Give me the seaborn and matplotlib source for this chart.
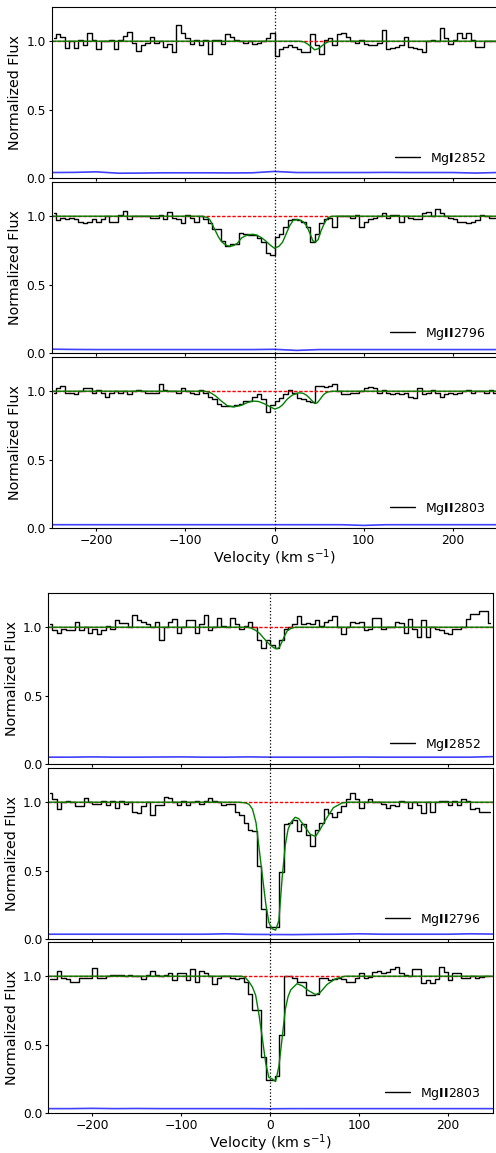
import numpy as np
import matplotlib
matplotlib.use("Agg")
import matplotlib.pyplot as plt
import seaborn as sns

# velocity bin centres (km/s) of the binned spectra, and knots of the error curves
VEL = np.arange(-247.5, 250, 5.0)
ERR_VEL = np.arange(-250, 251, 25)

LABELS = [r"Mg$\bf{I}$2852", r"Mg$\bf{II}$2796", r"Mg$\bf{II}$2803"]

# ---- system A (upper block) ----
FLUX_A_2852 = [
    1.02, 1.05, 1.03, 0.95, 1.00, 0.95, 1.01, 0.97, 1.06, 1.01,
    0.94, 1.00, 1.00, 1.01, 0.94, 1.01, 1.04, 1.07, 0.99, 0.93,
    0.97, 0.99, 1.03, 0.99, 1.00, 0.96, 0.98, 0.92, 1.12, 1.06,
    1.02, 0.98, 1.01, 0.97, 1.01, 0.91, 1.01, 1.01, 0.98, 1.05,
    1.03, 1.01, 1.00, 0.99, 1.00, 0.98, 0.99, 1.00, 1.02, 1.06,
    0.89, 0.94, 0.96, 0.97, 0.96, 0.94, 0.92, 0.92, 1.05, 0.97,
    0.91, 1.01, 1.02, 0.97, 1.05, 1.06, 1.03, 1.00, 0.99, 1.01,
    0.98, 0.97, 0.97, 0.99, 1.08, 0.94, 0.95, 0.96, 0.97, 1.03,
    0.96, 0.95, 0.94, 0.92, 1.00, 1.01, 1.00, 1.10, 1.02, 0.98,
    1.01, 1.06, 1.02, 1.06, 1.01, 0.96, 0.96, 1.00, 1.00, 1.00,
]
FLUX_A_2796 = [
    1.02, 0.97, 0.99, 0.98, 0.99, 0.98, 0.96, 0.95, 0.96, 0.98,
    0.96, 0.98, 1.00, 0.96, 0.96, 1.01, 1.04, 0.98, 1.00, 1.00,
    1.00, 1.00, 0.99, 0.99, 1.01, 0.98, 1.03, 0.99, 0.98, 0.95,
    1.01, 0.99, 0.96, 1.00, 0.98, 0.95, 0.91, 0.91, 0.82, 0.78,
    0.80, 0.80, 0.88, 0.87, 0.86, 0.86, 0.84, 0.81, 0.73, 0.72,
    0.85, 0.87, 0.92, 0.97, 0.98, 0.97, 0.96, 0.92, 0.81, 0.87,
    0.95, 0.98, 0.99, 0.92, 1.00, 1.00, 1.00, 0.99, 1.01, 0.92,
    0.96, 0.98, 0.99, 1.00, 1.02, 0.99, 1.01, 1.01, 0.96, 1.00,
    0.99, 0.98, 0.98, 1.02, 1.03, 1.00, 1.05, 1.02, 1.00, 0.99,
    0.98, 0.96, 0.96, 0.95, 0.96, 0.97, 1.01, 1.00, 0.99, 0.99,
]
FLUX_A_2803 = [
    0.99, 1.02, 1.04, 0.99, 0.99, 0.98, 1.00, 1.02, 1.02, 0.99,
    1.01, 0.99, 0.96, 0.99, 1.00, 0.99, 1.00, 0.98, 1.00, 1.01,
    1.00, 0.99, 0.99, 0.99, 1.05, 1.01, 1.00, 1.00, 0.99, 1.02,
    1.00, 0.99, 0.98, 1.01, 0.99, 0.96, 0.94, 0.91, 0.89, 0.89,
    0.89, 0.90, 0.91, 0.93, 0.93, 0.96, 0.98, 0.94, 0.85, 0.90,
    0.93, 0.95, 0.98, 1.01, 0.99, 0.95, 0.94, 0.93, 0.92, 1.04,
    1.04, 1.03, 1.04, 1.05, 1.00, 0.98, 0.98, 0.99, 0.99, 1.00,
    1.02, 1.03, 1.02, 0.99, 1.01, 0.99, 0.98, 0.99, 0.98, 0.99,
    0.96, 0.95, 1.02, 0.98, 0.99, 1.01, 0.99, 0.96, 0.98, 0.99,
    0.98, 0.99, 1.00, 1.01, 0.99, 1.00, 1.00, 0.99, 1.01, 0.99,
]
MODEL_A_2852_V = [-250, 28, 33, 37, 41, 45, 49, 53, 57, 61, 65, 250]
MODEL_A_2852_F = [1.0, 1.0, 0.995, 0.98, 0.96, 0.937, 0.945, 0.965, 0.985, 0.997, 1.0, 1.0]
MODEL_A_2796_V = [-250, -85, -80, -75, -72, -69, -66, -63, -60, -57, -53, -50, -46, -42, -37,
                  -33, -28, -24, -20, -15, -10, -5, 0, 5, 9, 13, 17, 21, 27, 32, 36, 40,
                  43, 46, 49, 52, 56, 60, 65, 250]
MODEL_A_2796_F = [1.0, 1.0, 0.998, 0.99, 0.97, 0.93, 0.89, 0.85, 0.82, 0.80, 0.785, 0.78,
                  0.785, 0.80, 0.84, 0.855, 0.866, 0.868, 0.862, 0.845, 0.82, 0.79, 0.765,
                  0.78, 0.81, 0.87, 0.93, 0.97, 0.976, 0.96, 0.93, 0.87, 0.82, 0.81, 0.83,
                  0.89, 0.95, 0.99, 1.0, 1.0]
MODEL_A_2803_V = [-250, -78, -72, -66, -60, -53, -46, -38, -31, -25, -18, -12, -6, 0, 5, 9,
                  14, 20, 27, 32, 36, 40, 45, 48, 51, 55, 59, 65, 250]
MODEL_A_2803_F = [1.0, 1.0, 0.99, 0.965, 0.93, 0.895, 0.885, 0.895, 0.915, 0.928, 0.925,
                  0.91, 0.89, 0.87, 0.88, 0.90, 0.94, 0.972, 0.988, 0.985, 0.97, 0.945,
                  0.91, 0.915, 0.94, 0.975, 0.993, 1.0, 1.0]
ERR_A_2852 = [0.040, 0.041, 0.045, 0.035, 0.036, 0.038, 0.038, 0.038, 0.037, 0.038, 0.048,
              0.040, 0.040, 0.040, 0.040, 0.041, 0.040, 0.040, 0.040, 0.036, 0.040]
ERR_A_2796 = [0.028, 0.026, 0.025, 0.025, 0.025, 0.025, 0.025, 0.025, 0.025, 0.025, 0.027,
              0.019, 0.025, 0.025, 0.025, 0.025, 0.025, 0.025, 0.025, 0.025, 0.025]
ERR_A_2803 = [0.024, 0.024, 0.024, 0.024, 0.024, 0.024, 0.024, 0.024, 0.024, 0.024, 0.024,
              0.024, 0.024, 0.024, 0.019, 0.024, 0.024, 0.024, 0.024, 0.024, 0.024]

# ---- system B (lower block) ----
FLUX_B_2852 = [
    1.02, 0.98, 0.96, 0.99, 0.98, 0.98, 1.04, 0.98, 1.00, 0.96,
    0.99, 0.95, 0.98, 1.01, 0.99, 1.05, 1.03, 1.03, 1.00, 1.09,
    1.05, 1.04, 1.02, 1.00, 1.04, 0.91, 1.00, 1.04, 1.06, 0.96,
    1.00, 1.05, 1.05, 0.96, 1.02, 1.09, 0.98, 1.00, 1.07, 1.01,
    1.00, 1.07, 1.02, 0.99, 1.01, 1.04, 1.00, 0.91, 0.85, 0.91,
    0.87, 0.85, 0.91, 0.99, 1.00, 1.02, 1.08, 1.02, 1.03, 1.02,
    1.05, 1.01, 1.04, 1.05, 1.08, 1.00, 0.95, 1.00, 1.04, 1.03,
    1.04, 0.98, 0.99, 1.07, 1.07, 0.99, 1.00, 1.00, 1.04, 1.03,
    0.96, 1.06, 0.99, 0.93, 1.05, 0.93, 1.00, 0.99, 0.98, 0.96,
    0.95, 0.99, 0.99, 1.00, 1.06, 1.10, 1.10, 1.12, 1.12, 1.03,
]
FLUX_B_2796 = [
    1.07, 1.02, 0.95, 1.00, 1.01, 1.00, 0.97, 0.97, 1.03, 1.00,
    0.99, 0.99, 1.01, 0.98, 1.01, 0.96, 1.01, 0.99, 1.00, 0.93,
    0.92, 0.97, 1.00, 0.91, 0.98, 0.98, 1.04, 1.03, 1.00, 0.98,
    1.01, 0.98, 1.00, 1.01, 0.99, 1.01, 1.03, 1.01, 1.00, 0.98,
    0.99, 0.99, 0.93, 0.91, 0.85, 0.80, 0.79, 0.53, 0.22, 0.085,
    0.085, 0.09, 0.49, 0.84, 0.85, 0.87, 0.79, 0.84, 0.76, 0.68,
    0.80, 0.85, 0.95, 0.92, 0.89, 0.93, 0.97, 1.02, 1.07, 1.02,
    0.96, 1.00, 1.02, 1.00, 1.00, 0.99, 0.96, 0.98, 0.97, 1.01,
    1.00, 0.96, 1.00, 0.98, 0.92, 1.00, 0.93, 1.00, 1.01, 1.01,
    0.98, 1.01, 0.98, 1.02, 1.01, 0.95, 0.96, 0.93, 0.93, 0.93,
]
FLUX_B_2803 = [
    0.98, 0.98, 1.04, 0.99, 0.98, 0.96, 0.96, 0.99, 0.99, 0.99,
    1.06, 0.99, 0.99, 1.00, 1.01, 1.01, 1.01, 1.00, 1.01, 1.00,
    1.00, 0.98, 1.01, 1.04, 1.01, 1.005, 1.01, 1.02, 0.97, 1.02,
    1.02, 0.97, 1.05, 0.96, 1.04, 1.02, 1.00, 0.94, 0.99, 1.00,
    1.005, 0.99, 0.98, 0.99, 0.96, 0.87, 0.75, 0.75, 0.41, 0.24,
    0.24, 0.27, 0.57, 1.00, 1.00, 0.99, 0.96, 0.96, 0.86, 0.86,
    0.87, 0.99, 0.99, 0.97, 0.98, 0.99, 0.98, 0.96, 0.96, 0.99,
    1.02, 0.99, 0.995, 1.03, 1.04, 1.02, 1.03, 1.05, 1.07, 1.02,
    1.01, 1.00, 1.05, 1.05, 0.95, 0.97, 0.95, 0.98, 1.07, 1.03,
    0.97, 1.02, 1.02, 0.99, 0.99, 1.005, 0.99, 0.995, 1.00, 1.005,
]
MODEL_B_2852_V = [-250, -28, -22, -16, -12, -8, -4, 0, 4, 7, 10, 13, 16, 19, 23, 28, 250]
MODEL_B_2852_F = [1.0, 1.0, 0.995, 0.975, 0.955, 0.925, 0.895, 0.87, 0.85, 0.842, 0.85,
                  0.89, 0.935, 0.972, 0.99, 1.0, 1.0]
MODEL_B_2796_V = [-250, -35, -28, -24, -20, -16, -12.7, -9, -5, -1.5, 2, 6, 9.7, 13.4, 17,
                  20, 23, 28, 32, 38, 45, 51, 56, 64, 71, 81, 88, 250]
MODEL_B_2796_F = [1.0, 1.0, 0.995, 0.985, 0.95, 0.85, 0.67, 0.47, 0.255, 0.12, 0.075, 0.065,
                  0.135, 0.45, 0.69, 0.80, 0.85, 0.89, 0.88, 0.83, 0.765, 0.75, 0.80, 0.89,
                  0.96, 0.995, 1.0, 1.0]
MODEL_B_2803_V = [-250, -32, -28, -24, -20, -16.4, -12.7, -9, -5, -1.5, 2, 6, 9.7, 13.4, 17,
                  20, 23, 30, 36, 43, 51, 56, 64, 73, 84, 250]
MODEL_B_2803_F = [1.0, 1.0, 0.99, 0.96, 0.92, 0.86, 0.72, 0.55, 0.36, 0.26, 0.25, 0.23, 0.34,
                  0.55, 0.76, 0.85, 0.90, 0.945, 0.93, 0.895, 0.865, 0.88, 0.94, 0.98, 1.0, 1.0]
ERR_B_2852 = [0.050, 0.050, 0.052, 0.050, 0.050, 0.051, 0.052, 0.050, 0.050, 0.052, 0.050,
              0.050, 0.050, 0.050, 0.051, 0.050, 0.050, 0.050, 0.050, 0.050, 0.054]
ERR_B_2796 = [0.035, 0.035, 0.035, 0.035, 0.035, 0.035, 0.035, 0.035, 0.038, 0.034, 0.033,
              0.032, 0.034, 0.035, 0.038, 0.035, 0.035, 0.035, 0.035, 0.038, 0.036]
ERR_B_2803 = [0.032, 0.032, 0.034, 0.032, 0.033, 0.032, 0.032, 0.032, 0.032, 0.032, 0.031,
              0.032, 0.032, 0.032, 0.032, 0.032, 0.032, 0.032, 0.032, 0.032, 0.032]

W, H = 496, 1153  # figure size in pixels


def draw_panel(ax, flux, model_v, model_f, err, label, bottom):
    sns.lineplot(x=VEL, y=flux, drawstyle="steps-mid", color="k", lw=1, zorder=2, ax=ax)
    data_line = ax.lines[-1]
    ax.axhline(1.0, color="r", ls="--", dashes=(2.5, 1.2), lw=1, zorder=2.2)
    sns.lineplot(x=model_v, y=model_f, color="g", lw=1, zorder=2.5, ax=ax)
    sns.lineplot(x=ERR_VEL, y=err, color="b", alpha=0.75, lw=1.2, ax=ax)
    ax.axvline(0, color="k", ls=":", lw=0.9)

    ax.set_xlim(-250, 250)
    ax.set_ylim(0, 1.25)
    ax.set_xticks([-200, -100, 0, 100, 200])
    ax.set_yticks([0.0, 0.5, 1.0])
    ax.tick_params(labelsize=8.8, direction="out", length=2.5, width=0.8, pad=1.5,
                   labelbottom=bottom)
    for sp in ax.spines.values():
        sp.set_linewidth(0.8)
        sp.set_color("k")
    ax.set_ylabel("Normalized Flux", fontsize=10.3)
    ax.yaxis.set_label_coords(-0.066, 0.5)
    if bottom:
        ax.set_xlabel(r"Velocity (km s$^{-1}$)", fontsize=10.3, labelpad=0.5)
    else:
        ax.set_xlabel("")
    ax.legend(handles=[data_line], labels=[label], loc="lower right",
              frameon=False, fontsize=9)


def draw_group(fig, left, right, tops, panels):
    for i, (top, panel) in enumerate(zip(tops, panels)):
        bot = top + 171
        ax = fig.add_axes([left / W, (H - bot) / H, (right - left) / W, 171 / H])
        draw_panel(ax, *panel, LABELS[i], i == len(panels) - 1)


def main():
    sns.set_style("ticks")
    plt.rcParams["font.family"] = ["DejaVu Sans"]
    plt.rcParams["text.color"] = "k"
    plt.rcParams["xtick.color"] = "k"
    plt.rcParams["ytick.color"] = "k"
    plt.rcParams["axes.labelcolor"] = "k"

    fig = plt.figure(figsize=(W / 100, H / 100), dpi=100)

    draw_group(fig, 51.5, 497.5, [7, 182, 357], [
        (FLUX_A_2852, MODEL_A_2852_V, MODEL_A_2852_F, ERR_A_2852),
        (FLUX_A_2796, MODEL_A_2796_V, MODEL_A_2796_F, ERR_A_2796),
        (FLUX_A_2803, MODEL_A_2803_V, MODEL_A_2803_F, ERR_A_2803),
    ])
    draw_group(fig, 48, 492.5, [593, 768, 942], [
        (FLUX_B_2852, MODEL_B_2852_V, MODEL_B_2852_F, ERR_B_2852),
        (FLUX_B_2796, MODEL_B_2796_V, MODEL_B_2796_F, ERR_B_2796),
        (FLUX_B_2803, MODEL_B_2803_V, MODEL_B_2803_F, ERR_B_2803),
    ])

    fig.savefig("out.png", dpi=100)


if __name__ == "__main__":
    main()
